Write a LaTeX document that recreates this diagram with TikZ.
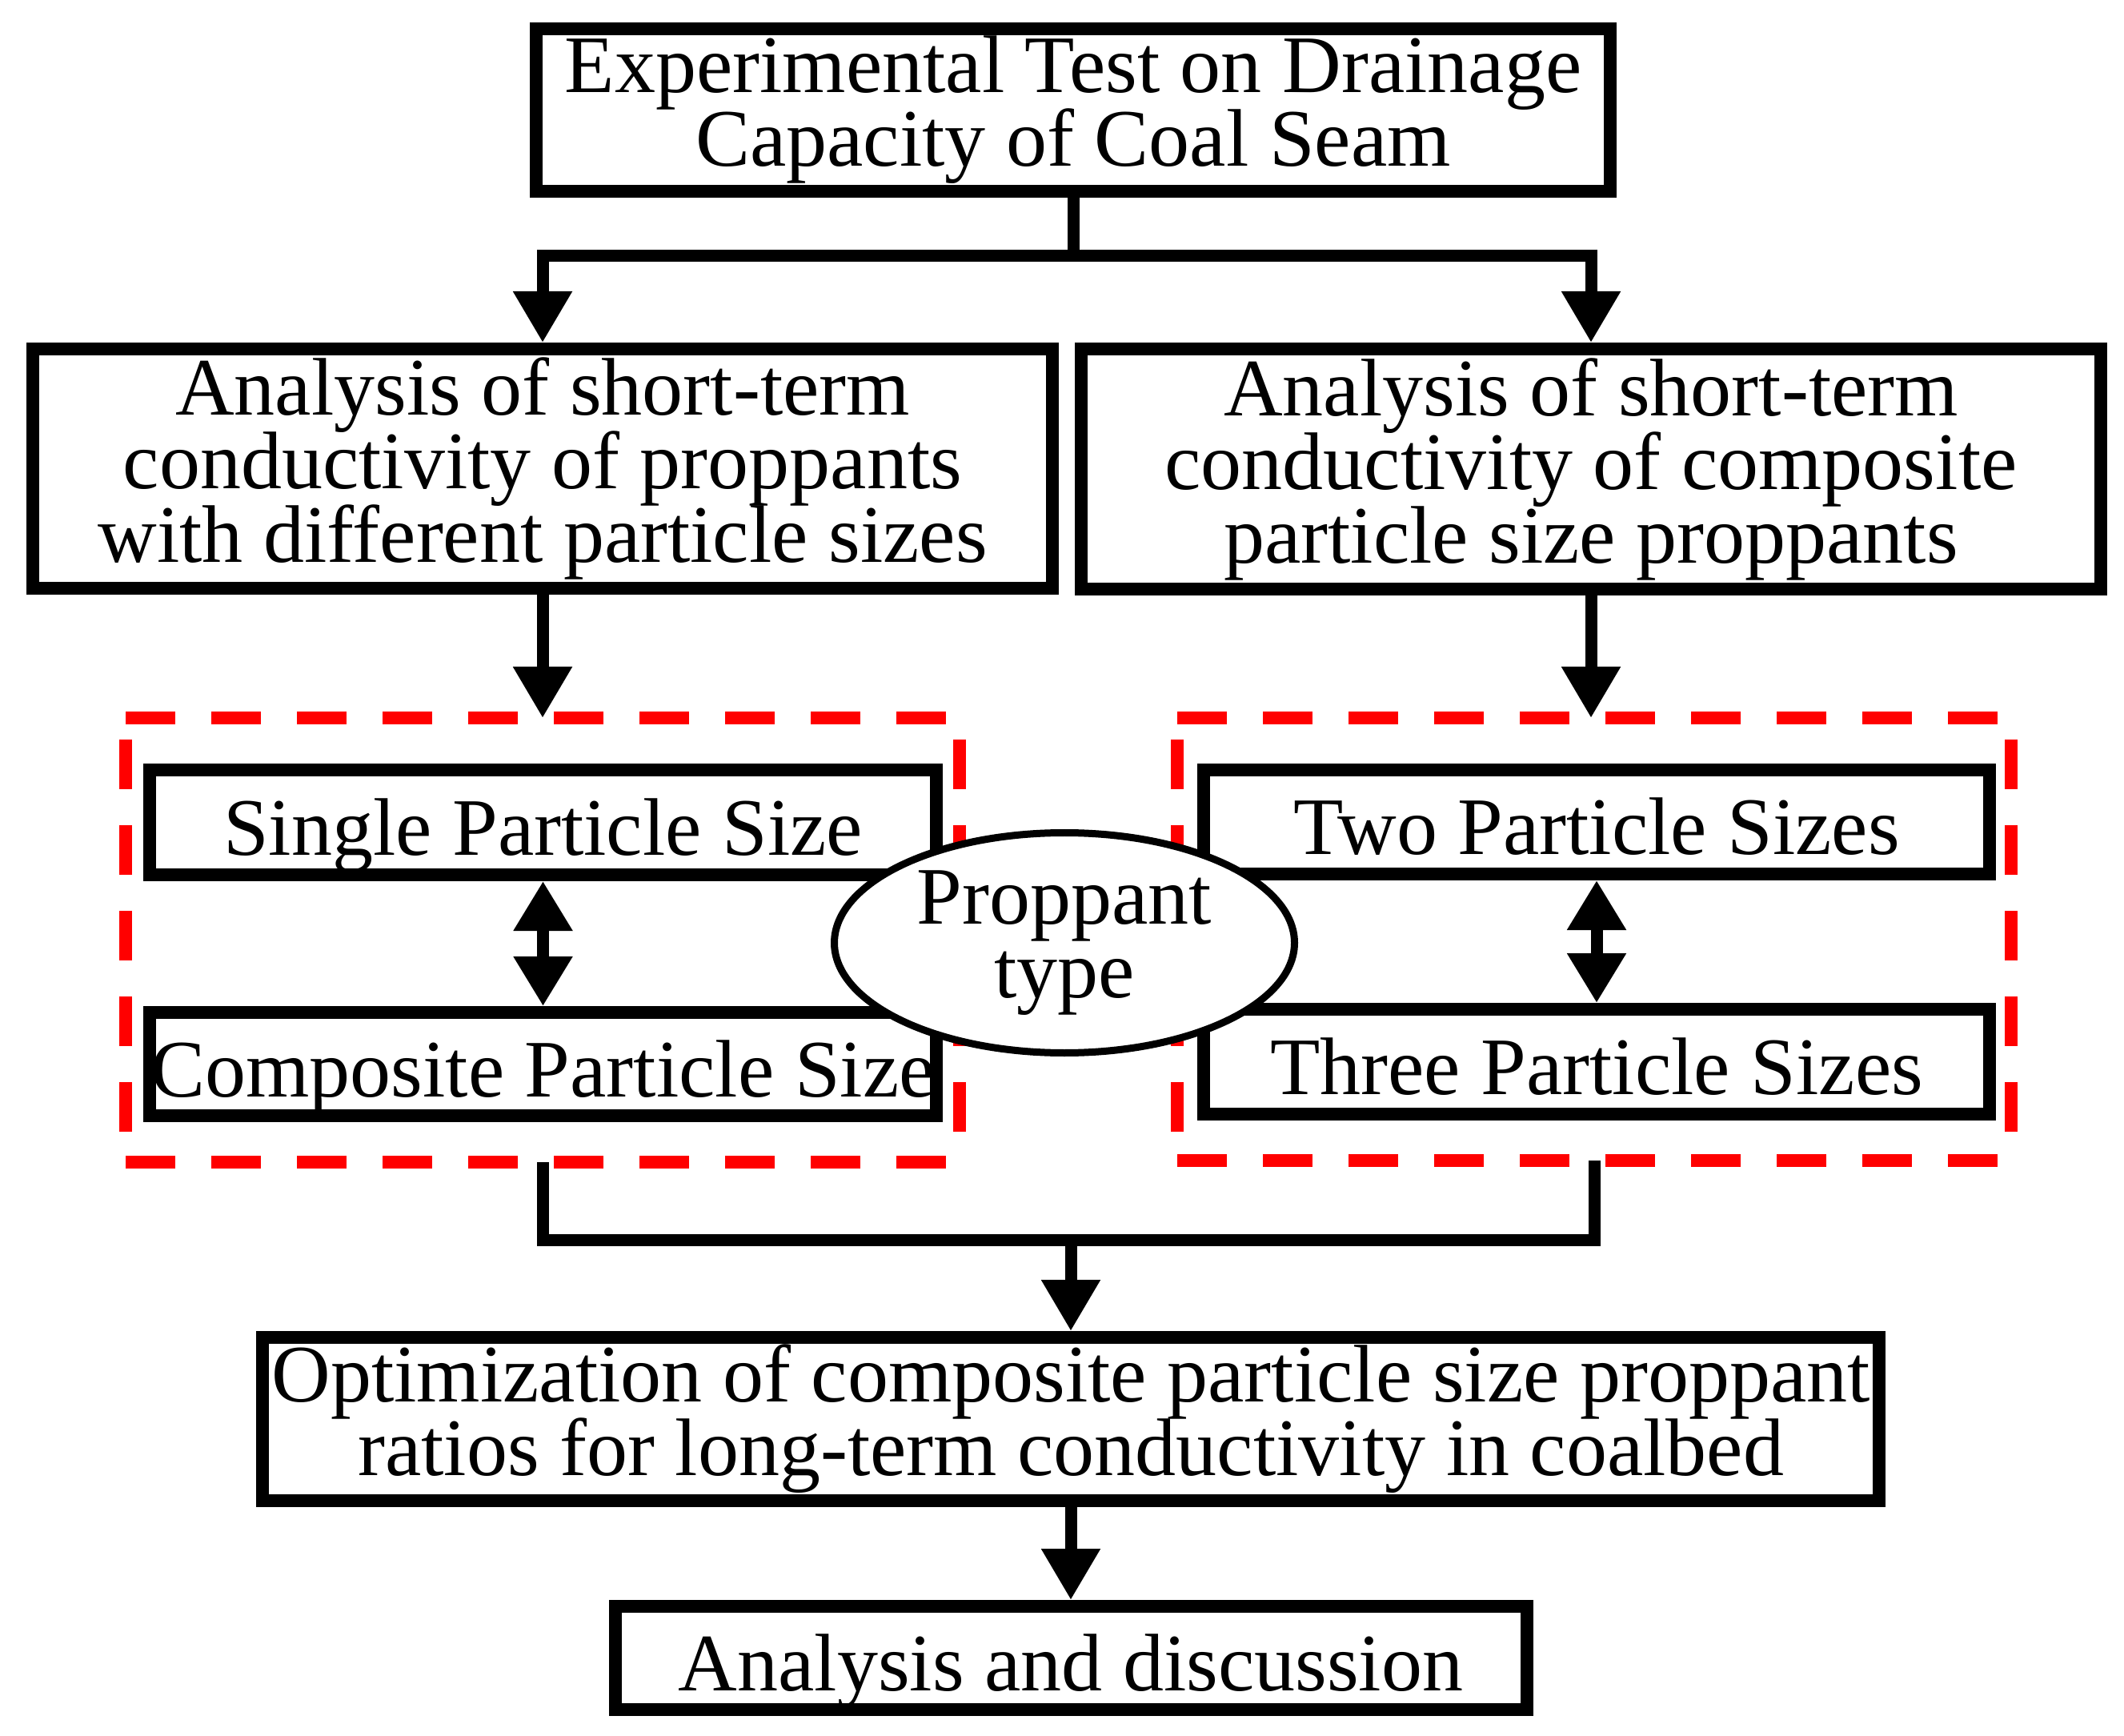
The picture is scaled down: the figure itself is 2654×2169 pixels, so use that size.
\documentclass[tikz,border=0pt]{standalone}
\usepackage{fontspec}
\setmainfont{Liberation Serif}
\usetikzlibrary{arrows.meta,shapes.geometric}
\setlength{\lineskiplimit}{-100pt}
\begin{document}
\begin{tikzpicture}[x=0.25pt,y=-0.25pt,
  txt/.style={font=\fontsize{25.5pt}{23pt}\selectfont},
  box/.style={txt, draw, line width=4pt, inner sep=0pt, align=center},
  onebox/.style={box, text height=20.5pt, text depth=0pt},
  oval/.style={txt, draw, ellipse, line width=2.25pt, fill=white, inner sep=0pt, align=center},
  grp/.style={inner sep=0pt, outer sep=0pt},
  reddash/.style={draw=red, line width=4pt, dash pattern=on 15.5pt off 11.25pt},
  conn/.style={line width=3.75pt},
  arr/.style={conn, -{Triangle[length=16pt,width=17.5pt]}},
  darr/.style={conn, {Triangle[length=15.5pt,width=17.5pt]}-{Triangle[length=15.5pt,width=17.5pt]}}
]
\useasboundingbox (0,0) rectangle (2654,2169);

% dashed groups
\node[grp, minimum width=260.5pt, minimum height=138.75pt] (lgrp) at (678,1174.5) {};
\node[grp, minimum width=260.5pt, minimum height=138.25pt] (rgrp) at (1992,1173.5) {};
\foreach \g in {lgrp,rgrp}{
  \draw[reddash] (\g.north west) -- (\g.north east);
  \draw[reddash] (\g.south west) -- (\g.south east);
  \draw[reddash, dash phase=20pt] (\g.north west) -- (\g.south west);
  \draw[reddash, dash phase=20pt] (\g.north east) -- (\g.south east);
}

% boxes
\node[box, minimum width=335.5pt, minimum height=50.75pt] (top) at (1341,137.5)
  {Experimental Test on Drainage\\Capacity of Coal Seam};
\node[box, minimum width=318.5pt, minimum height=74.75pt] (left) at (678,585.5)
  {Analysis of short-term\\conductivity of proppants\\with different particle sizes};
\node[box, minimum width=318.5pt, minimum height=75pt] (right) at (1988,586)
  {Analysis of short-term\\conductivity of composite\\particle size proppants};
\node[onebox, minimum width=245.75pt, minimum height=32.75pt] (single) at (678.5,1027.5)
  {Single Particle Size};
\node[onebox, minimum width=245.75pt, minimum height=32.25pt] (comp) at (678.5,1329.5)
  {Composite Particle Size};
\node[onebox, minimum width=245.5pt, minimum height=32.5pt] (two) at (1995,1027)
  {Two Particle Sizes};
\node[onebox, minimum width=245.5pt, minimum height=32.75pt] (three) at (1995,1326.5)
  {Three Particle Sizes};
\node[box, minimum width=505pt, minimum height=51pt] (opt) at (1338,1773)
  {Optimization of composite particle size proppant\\ratios for long-term conductivity in coalbed};
\node[onebox, minimum width=284.75pt, minimum height=32.25pt] (ana) at (1338,2071.5)
  {Analysis and discussion};

% ellipse
\node[oval, minimum width=143.75pt, minimum height=68.75pt] (ptype) at (1330,1178)
  {Proppant\\type};

% connectors
\coordinate (tj) at (1341,320);
\coordinate (bj) at (1338,1549);
\draw[conn] (top.south) -- (tj);
\draw[arr] (tj) -| (left.north);
\draw[arr] (tj) -| (right.north);
\draw[arr] (left.south) -- (left.south |- lgrp.north);
\draw[arr] (right.south) -- (right.south |- rgrp.north);
\draw[darr] (single.south) -- (comp.north);
\draw[darr] (two.south) -- (three.north);
\draw[conn] (lgrp.south) |- (bj) -| (rgrp.south);
\draw[arr] (bj) -- (opt.north);
\draw[arr] (opt.south) -- (ana.north);
\end{tikzpicture}
\end{document}
